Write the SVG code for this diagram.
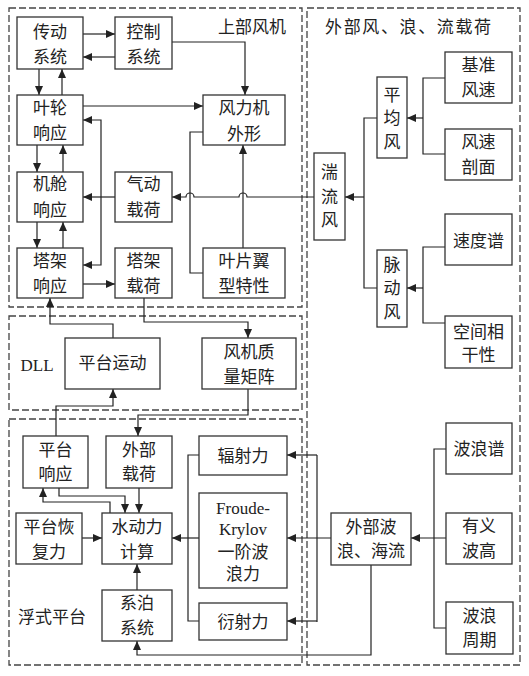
<svg xmlns="http://www.w3.org/2000/svg" width="529" height="676" viewBox="0 0 529 676">
<defs>
<marker id="a" markerWidth="10" markerHeight="8" refX="9" refY="4" orient="auto-start-reverse" markerUnits="userSpaceOnUse"><path d="M0,0 L9,4 L0,8 z" fill="#222"/></marker>
<style>
.grp{fill:none;stroke:#444;stroke-width:1.3;stroke-dasharray:7,3}
.box{fill:#fff;stroke:#333;stroke-width:1.3}
.c{fill:none;stroke:#222;stroke-width:1.2}
.ar{marker-end:url(#a)}
text{font-family:"Liberation Serif","Noto Sans CJK SC",serif;font-size:17px;fill:#222;text-anchor:middle;dominant-baseline:central}
</style>
</defs>
<rect width="529" height="676" fill="#fff"/>
<g id="groups">
<rect class="grp" x="9" y="8" width="293" height="299"/>
<rect class="grp" x="9" y="316" width="293" height="94"/>
<rect class="grp" x="9" y="419" width="293" height="246"/>
<rect class="grp" x="307" y="8" width="213" height="657"/>
<text x="252" y="27" font-size="18">上部风机</text>
<text x="408" y="27" font-size="18" textLength="166">外部风、浪、流载荷</text>
<text x="37" y="365" font-size="18">DLL</text>
<text x="52" y="617" font-size="18">浮式平台</text>
</g>
<g id="connectors">
<path class="c ar" d="M83,34H115"/>
<path class="c ar" d="M115,57H83"/>
<path class="c ar" d="M172,42H245V95"/>
<path class="c ar" d="M39,69V95"/>
<path class="c ar" d="M62,95V69"/>
<path class="c ar" d="M83,106H203"/>
<path class="c ar" d="M37,145V172"/>
<path class="c ar" d="M63,172V145"/>
<path class="c ar" d="M37,222V248"/>
<path class="c ar" d="M63,248V222"/>
<path class="c ar" d="M83,120H101V265H83" marker-start="url(#a)"/>
<path class="c ar" d="M115,197H83"/>
<path class="c ar" d="M314,197H247a4,4 0 0 0 -8,0H194a4,4 0 0 0 -8,0H172"/>
<path class="c" d="M203,132H190V273H203"/>
<path class="c ar" d="M243,248V145"/>
<path class="c ar" d="M83,284H115"/>
<path class="c ar" d="M113,338V324H50V298"/>
<path class="c ar" d="M144,298V322H248V338"/>
<path class="c ar" d="M56,436V406H113V389"/>
<path class="c ar" d="M248,389V415H138V436"/>
<path class="c ar" d="M59,488V496H125V513"/>
<path class="c ar" d="M110,513V502H43V488"/>
<path class="c ar" d="M139,488V513"/>
<path class="c ar" d="M82,538H102"/>
<path class="c ar" d="M137,590V564"/>
<path class="c" d="M199,455H188V621H199"/>
<path class="c ar" d="M199,538H172"/>
<path class="c ar" d="M331,538H287"/>
<path class="c" d="M317,455V622"/>
<path class="c ar" d="M317,455H287"/>
<path class="c ar" d="M317,621H287"/>
<path class="c ar" d="M371,565V655H137V641"/>
<path class="c" d="M446,449H434V628H446"/>
<path class="c ar" d="M446,538H411"/>
<path class="c" d="M445,78H423V154H445"/>
<path class="c ar" d="M423,118H407"/>
<path class="c" d="M445,247H423V323H445"/>
<path class="c ar" d="M423,288H407"/>
<path class="c" d="M377,118H364V288H377"/>
<path class="c ar" d="M364,197H345"/>
</g>
<g id="n-chuandong"><rect class="box" x="17" y="17" width="66" height="52"/><text x="50" y="32">传动</text><text x="50" y="57">系统</text></g>
<g id="n-kongzhi"><rect class="box" x="115" y="17" width="57" height="52"/><text x="143.5" y="32">控制</text><text x="143.5" y="57">系统</text></g>
<g id="n-yelun"><rect class="box" x="17" y="95" width="66" height="50"/><text x="50" y="108">叶轮</text><text x="50" y="133">响应</text></g>
<g id="n-waixing"><rect class="box" x="203" y="95" width="82" height="50"/><text x="244" y="108">风力机</text><text x="244" y="134">外形</text></g>
<g id="n-jicang"><rect class="box" x="17" y="172" width="66" height="50"/><text x="50" y="184">机舱</text><text x="50" y="210">响应</text></g>
<g id="n-qidong"><rect class="box" x="115" y="172" width="57" height="50"/><text x="143.5" y="184">气动</text><text x="143.5" y="210">载荷</text></g>
<g id="n-tajia"><rect class="box" x="17" y="248" width="66" height="50"/><text x="50" y="261">塔架</text><text x="50" y="286">响应</text></g>
<g id="n-tajiazai"><rect class="box" x="115" y="248" width="57" height="50"/><text x="143.5" y="261">塔架</text><text x="143.5" y="286">载荷</text></g>
<g id="n-yixing"><rect class="box" x="203" y="248" width="82" height="50"/><text x="244" y="261">叶片翼</text><text x="244" y="286">型特性</text></g>
<g id="n-pingtaiyundong"><rect class="box" x="65" y="338" width="95" height="51"/><text x="112.5" y="363">平台运动</text></g>
<g id="n-zhiliang"><rect class="box" x="202" y="338" width="94" height="51"/><text x="249" y="352">风机质</text><text x="249" y="377">量矩阵</text></g>
<g id="n-pingtaixiangying"><rect class="box" x="23" y="436" width="65" height="52"/><text x="55.5" y="450">平台</text><text x="55.5" y="474">响应</text></g>
<g id="n-waibuzaihe"><rect class="box" x="106" y="436" width="66" height="52"/><text x="139" y="450">外部</text><text x="139" y="474">载荷</text></g>
<g id="n-fushe"><rect class="box" x="199" y="436" width="88" height="39"/><text x="243" y="456">辐射力</text></g>
<g id="n-fk"><rect class="box" x="199" y="493" width="88" height="95"/><text x="243" y="508">Froude-</text><text x="243" y="529">Krylov</text><text x="243" y="552">一阶波</text><text x="243" y="574">浪力</text></g>
<g id="n-yanshe"><rect class="box" x="199" y="603" width="88" height="37"/><text x="243" y="622">衍射力</text></g>
<g id="n-huifu"><rect class="box" x="16" y="513" width="66" height="51"/><text x="49" y="527">平台恢</text><text x="49" y="552">复力</text></g>
<g id="n-shuidongli"><rect class="box" x="102" y="513" width="70" height="51"/><text x="137" y="527">水动力</text><text x="137" y="552">计算</text></g>
<g id="n-xibo"><rect class="box" x="102" y="590" width="70" height="51"/><text x="137" y="603">系泊</text><text x="137" y="628">系统</text></g>
<g id="n-bolang"><rect class="box" x="331" y="513" width="80" height="52"/><text x="371" y="527">外部波</text><text x="371" y="551">浪、海流</text></g>
<g id="n-bolangpu"><rect class="box" x="446" y="423" width="66" height="51"/><text x="479" y="449">波浪谱</text></g>
<g id="n-youyi"><rect class="box" x="446" y="513" width="66" height="51"/><text x="479" y="526">有义</text><text x="479" y="551">波高</text></g>
<g id="n-zhouqi"><rect class="box" x="446" y="602" width="67" height="52"/><text x="479.5" y="616">波浪</text><text x="479.5" y="640">周期</text></g>
<g id="n-jizhun"><rect class="box" x="445" y="52" width="67" height="51"/><text x="478.5" y="65">基准</text><text x="478.5" y="90">风速</text></g>
<g id="n-poumian"><rect class="box" x="445" y="129" width="67" height="51"/><text x="478.5" y="142">风速</text><text x="478.5" y="167">剖面</text></g>
<g id="n-pingjun"><rect class="box" x="377" y="77" width="30" height="81"/><text x="392" y="95">平</text><text x="392" y="118">均</text><text x="392" y="142">风</text></g>
<g id="n-tuanliu"><rect class="box" x="314" y="153" width="31" height="87"/><text x="329.5" y="172">湍</text><text x="329.5" y="197">流</text><text x="329.5" y="220">风</text></g>
<g id="n-suduopu"><rect class="box" x="445" y="214" width="67" height="51"/><text x="478.5" y="241">速度谱</text></g>
<g id="n-maidong"><rect class="box" x="377" y="250" width="30" height="77"/><text x="392" y="265">脉</text><text x="392" y="288">动</text><text x="392" y="312">风</text></g>
<g id="n-xianggan"><rect class="box" x="445" y="316" width="67" height="52"/><text x="478.5" y="332">空间相</text><text x="478.5" y="355">干性</text></g>
</svg>
